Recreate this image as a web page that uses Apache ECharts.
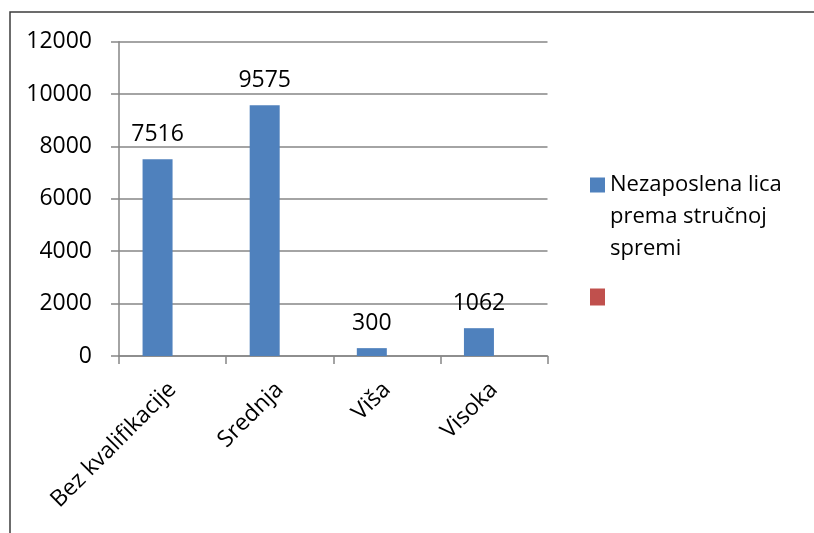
<!DOCTYPE html>
<html>
<head>
<meta charset="utf-8">
<script src="https://cdn.jsdelivr.net/npm/echarts@6/dist/echarts.min.js"></script>
<style>
  html, body { margin: 0; padding: 0; background: #fff; }
  #chart { width: 814px; height: 533px; }
</style>
</head>
<body>
<div id="chart"></div>
<script>
// Unemployed persons by level of qualification
const categories = ['Bez kvalifikacije', 'Srednja', 'Viša', 'Visoka'];
const unemployed = [7516, 9575, 300, 1062];
const emptySeries = [null, null, null, null];
const seriesNames = ['Nezaposlena lica prema stručnoj spremi', ' '];
const yTicks = { min: 0, max: 12000, step: 2000 };

const FONT = 'Open Sans';
const FS = 22;
const axisGray = '#868686';

// Break the long legend name onto three lines; two blank lines in front keep
// the first text line level with the colour swatch (legend text is centred).
function wrapLegend(name) {
  const lines = name.replace('lica ', 'lica\n').replace('stručnoj ', 'stručnoj\n');
  return '\n\n' + lines;
}

const chart = echarts.init(document.getElementById('chart'), null, { renderer: 'canvas' });

chart.setOption({
  animation: false,
  backgroundColor: '#fff',
  textStyle: { fontFamily: FONT },
  graphic: [{
    type: 'rect',
    shape: { x: 10, y: 12, width: 900, height: 600 },
    style: { fill: 'none', stroke: '#3c3c3c', lineWidth: 1.5 },
    silent: true,
    z: -1
  }],
  grid: { left: 119, top: 41.7, right: 266.5, bottom: 177, containLabel: false },
  legend: [{
    data: [seriesNames[0]],
    orient: 'vertical',
    left: 590,
    top: 105,
    padding: 0,
    itemWidth: 15,
    itemHeight: 15,
    icon: 'rect',
    formatter: wrapLegend,
    textStyle: { fontFamily: FONT, fontSize: FS, color: '#000', lineHeight: 32 }
  }, {
    data: [seriesNames[1]],
    orient: 'vertical',
    left: 590,
    top: 286,
    padding: 0,
    itemWidth: 15,
    itemHeight: 17,
    icon: 'rect',
    textStyle: { fontFamily: FONT, fontSize: FS, color: '#000' }
  }],
  xAxis: {
    type: 'category',
    data: categories,
    axisLine: { lineStyle: { color: axisGray, width: 1.5 } },
    axisTick: { show: true, length: 8, lineStyle: { color: axisGray, width: 1.5 } },
    axisLabel: {
      rotate: 45, interval: 0, margin: 30,
      fontFamily: FONT, fontSize: 23, color: '#000'
    },
    splitLine: { show: false }
  },
  yAxis: {
    type: 'value',
    min: yTicks.min, max: yTicks.max, interval: yTicks.step,
    axisLine: { show: true, lineStyle: { color: axisGray, width: 1.5 } },
    axisTick: { show: true, length: 8, lineStyle: { color: axisGray, width: 1.5 } },
    axisLabel: {
      margin: 27, fontFamily: FONT, fontSize: 23, color: '#000',
      formatter: v => String(v)
    },
    splitLine: { show: true, lineStyle: { color: axisGray, width: 1.5 } }
  },
  series: [{
    name: seriesNames[0],
    type: 'bar',
    data: unemployed,
    barWidth: 30,
    barGap: '0%',
    itemStyle: { color: '#4F81BD' },
    label: {
      show: true, position: 'top', distance: 13,
      fontFamily: FONT, fontSize: 23, color: '#000'
    }
  }, {
    name: seriesNames[1],
    type: 'bar',
    data: emptySeries,
    barWidth: 30,
    barGap: '0%',
    itemStyle: { color: '#C0504D' }
  }]
});
</script>
</body>
</html>
